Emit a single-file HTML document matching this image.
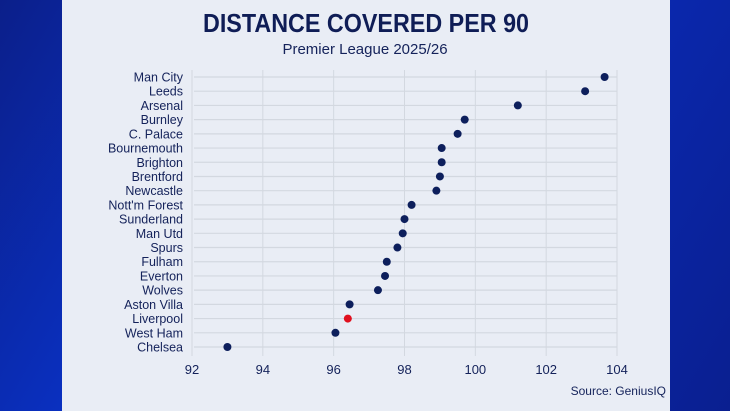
<!DOCTYPE html>
<html><head><meta charset="utf-8"><style>
html,body{margin:0;padding:0;width:730px;height:411px;overflow:hidden;background:#0a2ab0;font-family:"Liberation Sans",sans-serif}
#bg{position:absolute;left:0;top:0;width:730px;height:411px;background:linear-gradient(120deg,#0b1f8a 0%,#0a35d0 40%,#0a2ab5 60%,#0a1f90 100%)}
#panel{position:absolute;left:62px;top:0;width:608px;height:411px;background:#e9edf5}
svg{position:absolute;left:0;top:0}
</style></head><body>
<div id="bg"></div>
<div id="panel"></div>
<svg width="730" height="411" id="chart">
<text x="366" y="32" text-anchor="middle" font-size="26" font-weight="bold" fill="#0f1d56" textLength="326" lengthAdjust="spacingAndGlyphs">DISTANCE COVERED PER 90</text>
<text x="365" y="54" text-anchor="middle" font-size="15" fill="#14225a">Premier League 2025/26</text>
<text x="666" y="395" text-anchor="end" font-size="12" fill="#14225a">Source: GeniusIQ</text>
<g id="grid"></g><g id="labels"></g><g id="dots"></g>
</svg>
<script>
const teams=["Man City","Leeds","Arsenal","Burnley","C. Palace","Bournemouth","Brighton","Brentford","Newcastle","Nott'm Forest","Sunderland","Man Utd","Spurs","Fulham","Everton","Wolves","Aston Villa","Liverpool","West Ham","Chelsea"];
const values=[103.65,103.1,101.2,99.7,99.5,99.05,99.05,99.0,98.9,98.2,98.0,97.95,97.8,97.5,97.45,97.25,96.45,96.4,96.05,93.0];
const highlight=["Liverpool"];
const xTicks=[92,94,96,98,100,102,104];
const NS="http://www.w3.org/2000/svg";
function x(v){return 192+(v-92)*(617-192)/12;}
function y(i){return 77+i*(347-77)/(teams.length-1);}
function mk(t,a,p){const e=document.createElementNS(NS,t);for(const k in a)e.setAttribute(k,a[k]);p.appendChild(e);return e;}
const grid=document.getElementById('grid'),labels=document.getElementById('labels'),dots=document.getElementById('dots');
xTicks.forEach(t=>{
 const l=mk('line',{x1:x(t),x2:x(t),y1:70,y2:356,stroke:'#d3d8e0','stroke-width':1},grid);
 
 
 const tx=mk('text',{x:x(t),y:374,'text-anchor':'middle','font-size':13,fill:'#14225a'},grid);
 tx.textContent=t;
 
 
});
teams.forEach((n,i)=>{
 const l=mk('line',{x1:194,x2:617,y1:y(i),y2:y(i),stroke:'#d3d8e0','stroke-width':1.2},grid);
 
 
 const tx=mk('text',{x:183,y:y(i)+4.5,'text-anchor':'end','font-size':12.5,fill:'#14225a'},labels);
 tx.textContent=n;
 
 
 const c=mk('circle',{cx:x(values[i]),cy:y(i),r:4,fill:highlight.includes(n)?'#e0101e':'#0d1f5c'},dots);
 
 
});
</script>
</body></html>
